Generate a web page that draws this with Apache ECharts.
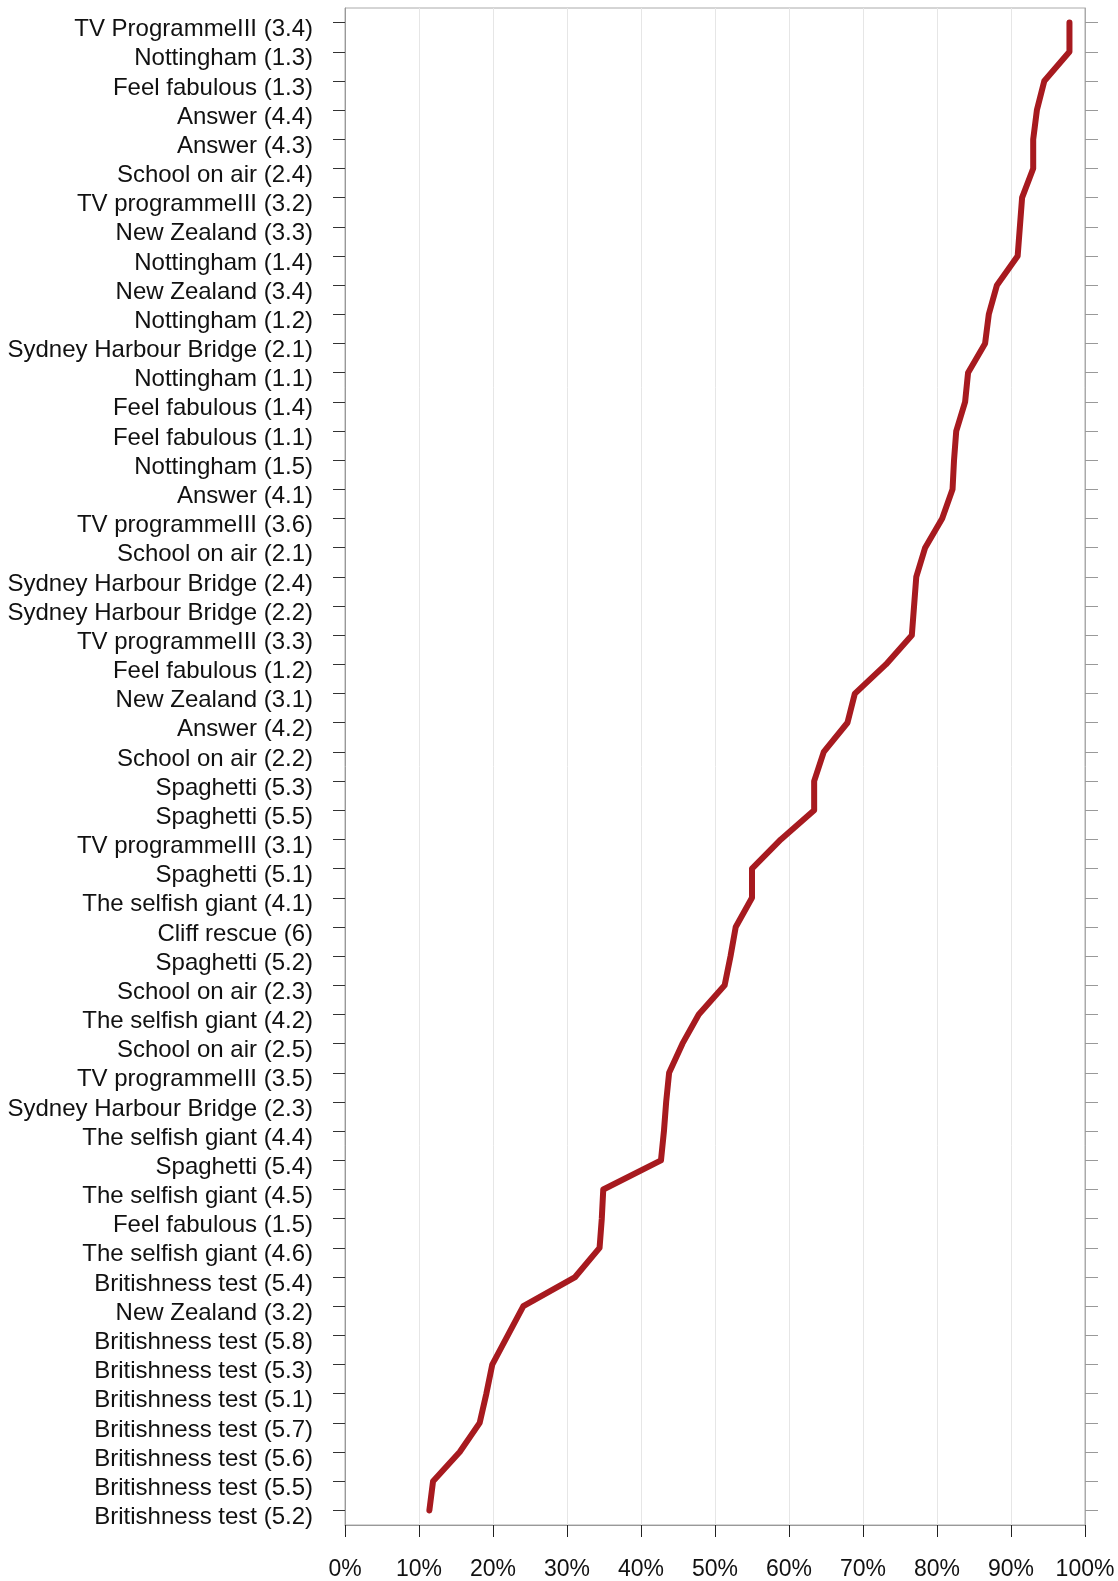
<!DOCTYPE html>
<html lang="en">
	<head>
		<meta charset="utf-8">
		<title>Chart</title>
		<script src="https://cdn.jsdelivr.net/npm/echarts@6/dist/echarts.min.js"></script>
		<style>
			html, body { margin: 0; padding: 0; background: #fff; }
			#container { width: 1118px; height: 1581px; }
		</style>
	</head>
	<body>
		<div id="container"></div>
		<script type="text/javascript">
            // categories, top to bottom
            var categories = [
                'TV ProgrammeIII (3.4)', 'Nottingham (1.3)', 'Feel fabulous (1.3)', 'Answer (4.4)',
                'Answer (4.3)', 'School on air (2.4)', 'TV programmeIII (3.2)', 'New Zealand (3.3)',
                'Nottingham (1.4)', 'New Zealand (3.4)', 'Nottingham (1.2)', 'Sydney Harbour Bridge (2.1)',
                'Nottingham (1.1)', 'Feel fabulous (1.4)', 'Feel fabulous (1.1)', 'Nottingham (1.5)',
                'Answer (4.1)', 'TV programmeIII (3.6)', 'School on air (2.1)', 'Sydney Harbour Bridge (2.4)',
                'Sydney Harbour Bridge (2.2)', 'TV programmeIII (3.3)', 'Feel fabulous (1.2)', 'New Zealand (3.1)',
                'Answer (4.2)', 'School on air (2.2)', 'Spaghetti (5.3)', 'Spaghetti (5.5)',
                'TV programmeIII (3.1)', 'Spaghetti (5.1)', 'The selfish giant (4.1)', 'Cliff rescue (6)',
                'Spaghetti (5.2)', 'School on air (2.3)', 'The selfish giant (4.2)', 'School on air (2.5)',
                'TV programmeIII (3.5)', 'Sydney Harbour Bridge (2.3)', 'The selfish giant (4.4)', 'Spaghetti (5.4)',
                'The selfish giant (4.5)', 'Feel fabulous (1.5)', 'The selfish giant (4.6)', 'Britishness test (5.4)',
                'New Zealand (3.2)', 'Britishness test (5.8)', 'Britishness test (5.3)', 'Britishness test (5.1)',
                'Britishness test (5.7)', 'Britishness test (5.6)', 'Britishness test (5.5)', 'Britishness test (5.2)'
            ];
            // percent correct, same order
            var values = [
                97.9, 97.9, 94.5, 93.5, 93.0, 93.0, 91.5, 91.2,
                90.9, 88.1, 87.0, 86.5, 84.2, 83.8, 82.6, 82.3,
                82.1, 80.7, 78.4, 77.2, 76.9, 76.6, 73.1, 68.9,
                67.9, 64.7, 63.4, 63.4, 58.9, 55.0, 55.0, 52.8,
                52.1, 51.3, 47.8, 45.6, 43.8, 43.4, 43.1, 42.7,
                34.9, 34.7, 34.4, 31.1, 24.1, 22.0, 19.9, 19.1,
                18.2, 15.5, 11.9, 11.4
            ];
            var xTicks = { min: 0, max: 100, interval: 10 };

            var myChart = echarts.init(document.getElementById('container'));
            var font = 'Liberation Sans, Arial, sans-serif';
            var option = {
                animation: false,
                grid: {
                    left: 345,
                    right: 33,
                    top: 8,
                    bottom: 55,
                    show: true,
                    borderColor: '#aaaaaa',
                    borderWidth: 1
                },
                xAxis: {
                    type: 'value',
                    min: xTicks.min,
                    max: xTicks.max,
                    interval: xTicks.interval,
                    axisLine: { show: true, lineStyle: { color: '#999999' } },
                    axisTick: { show: true, length: 12, lineStyle: { color: '#222222' } },
                    axisLabel: {
                        formatter: '{value}%',
                        color: '#111111',
                        fontFamily: font,
                        fontSize: 23,
                        margin: 33
                    },
                    splitLine: { show: true, lineStyle: { color: '#e6e6e6' } }
                },
                yAxis: [
                    {
                        type: 'category',
                        data: categories,
                        inverse: true,
                        boundaryGap: true,
                        axisLine: { show: true, lineStyle: { color: '#999999' } },
                        axisTick: { show: true, alignWithLabel: true, length: 12, lineStyle: { color: '#333333' } },
                        axisLabel: {
                            color: '#111111',
                            fontFamily: font,
                            fontSize: 24,
                            margin: 32,
                            interval: 0,
                            verticalAlign: 'top',
                            lineHeight: 14
                        },
                        splitLine: { show: false }
                    },
                    {
                        type: 'category',
                        data: categories,
                        inverse: true,
                        position: 'right',
                        boundaryGap: true,
                        axisLine: { show: true, lineStyle: { color: '#aaaaaa' } },
                        axisTick: { show: true, alignWithLabel: true, length: 13, lineStyle: { color: '#999999' } },
                        axisLabel: { show: false },
                        splitLine: { show: false }
                    }
                ],
                series: [
                    {
                        type: 'line',
                        data: values,
                        yAxisIndex: 0,
                        showSymbol: false,
                        symbol: 'none',
                        lineStyle: { color: '#a71a1f', width: 6, cap: 'round', join: 'round' }
                    }
                ]
            };
            myChart.setOption(option, true);
		</script>
	</body>
</html>
